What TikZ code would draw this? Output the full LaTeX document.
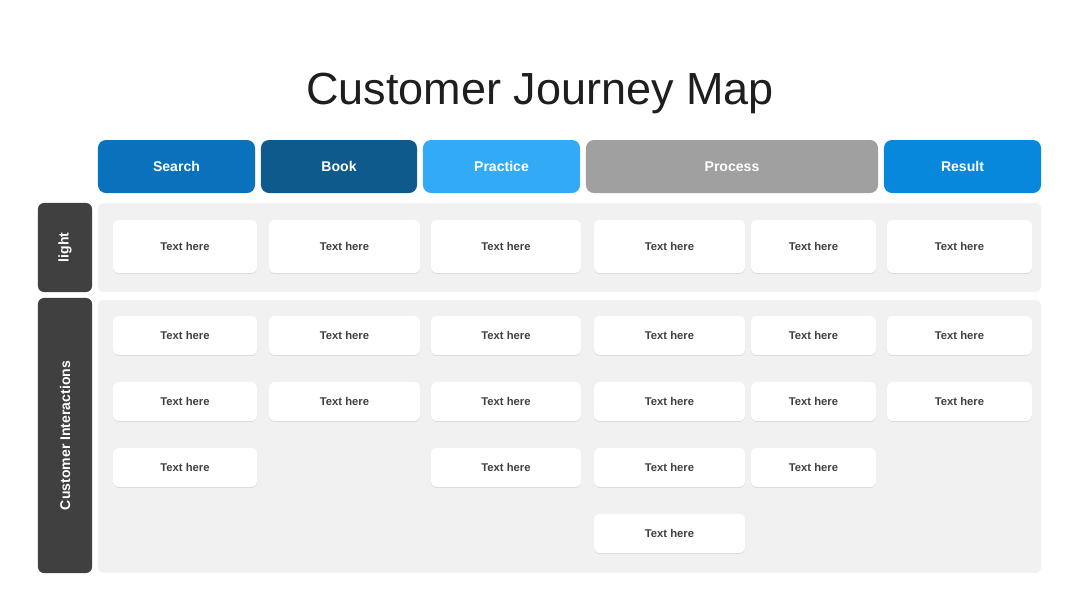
\documentclass[tikz,border=0pt]{standalone}
\usepackage{fontspec}
\setmainfont{Liberation Sans}
\usepackage{xcolor}
\usepackage{tikz}
\usetikzlibrary{positioning, shadows}
\definecolor{CJSearch}{RGB}{10,114,189}
\definecolor{CJBook}{RGB}{15,90,140}
\definecolor{CJPractice}{RGB}{51,170,245}
\definecolor{CJProcess}{RGB}{160,160,160}
\definecolor{CJResult}{RGB}{8,136,220}
\definecolor{CJDark}{RGB}{64,64,64}
\definecolor{CJPanel}{RGB}{241,241,241}
\definecolor{CJTitle}{RGB}{30,30,30}

\begin{document}
\begin{tikzpicture}[x=0.025cm, y=-0.025cm,
            head/.style={rectangle, rounded corners=0.2cm, inner sep=0pt,
                         minimum height=1.325cm, text=white,
                         font=\fontsize{10}{12}\selectfont\bfseries},
            lane/.style={rectangle, rounded corners=0.15cm, inner sep=0pt,
                         fill=CJDark, text=white, rotate=90,
                         minimum height=1.35cm,
                         font=\fontsize{10}{12}\selectfont\bfseries},
            panel/.style={rectangle, rounded corners=0.15cm, inner sep=0pt,
                          fill=CJPanel, minimum width=23.575cm},
            card/.style={rectangle, rounded corners=0.15cm, inner sep=0pt,
                         fill=white, text=CJDark, minimum height=0.975cm,
                         drop shadow={shadow xshift=0pt, shadow yshift=-0.6pt,
                                      opacity=0.10, fill=black},
                         font=\fontsize{8}{10}\selectfont\bfseries},
            big/.style={card, minimum height=1.325cm},
            wA/.style={minimum width=3.6cm},
            wB/.style={minimum width=3.775cm},
            wC/.style={minimum width=3.75cm},
            wD/.style={minimum width=3.775cm},
            wE/.style={minimum width=3.125cm},
            wF/.style={minimum width=3.625cm}
          ]
          \useasboundingbox[fill=white] (0,0) rectangle (1080,608);

          % title
          \node[anchor=base, text=CJTitle, font=\fontsize{32}{38}\selectfont]
                (title) at (540,104) {Customer Journey Map};

          % stage headers
          \node[head, fill=CJSearch,   minimum width=3.925cm] (search)   at (176.5,166.5) {Search};
          \node[head, fill=CJBook,     minimum width=3.9cm]   (book)     at (339,166.5)   {Book};
          \node[head, fill=CJPractice, minimum width=3.925cm] (practice) at (501.5,166.5) {Practice};
          \node[head, fill=CJProcess,  minimum width=7.3cm]   (process)  at (732,166.5)   {Process};
          \node[head, fill=CJResult,   minimum width=3.925cm] (result)   at (962.5,166.5) {Result};

          % lanes
          \node[lane, minimum width=2.225cm] (light) at (65,247.5) {light};
          \node[lane, minimum width=6.875cm] (inter) at (65,435.5) {Customer Interactions};
          \node[panel, minimum height=2.225cm] (p1) at (569.5,247.5) {};
          \node[panel, minimum height=6.825cm] (p2) at (569.5,436.5) {};

          % light row
          \node[big, wA] (l1) at (185,246.5)   {Text here};
          \node[big, wB] (l2) at (344.5,246.5) {Text here};
          \node[big, wC] (l3) at (506,246.5)   {Text here};
          \node[big, wD] (l4) at (669.5,246.5) {Text here};
          \node[big, wE] (l5) at (813.5,246.5) {Text here};
          \node[big, wF] (l6) at (959.5,246.5) {Text here};

          % interactions, row 1
          \node[card, wA] (a1) at (185,335.5)   {Text here};
          \node[card, wB] (a2) at (344.5,335.5) {Text here};
          \node[card, wC] (a3) at (506,335.5)   {Text here};
          \node[card, wD] (a4) at (669.5,335.5) {Text here};
          \node[card, wE] (a5) at (813.5,335.5) {Text here};
          \node[card, wF] (a6) at (959.5,335.5) {Text here};
          % row 2
          \node[card, wA] (b1) at (185,401.5)   {Text here};
          \node[card, wB] (b2) at (344.5,401.5) {Text here};
          \node[card, wC] (b3) at (506,401.5)   {Text here};
          \node[card, wD] (b4) at (669.5,401.5) {Text here};
          \node[card, wE] (b5) at (813.5,401.5) {Text here};
          \node[card, wF] (b6) at (959.5,401.5) {Text here};
          % row 3
          \node[card, wA] (c1) at (185,467.5)   {Text here};
          \node[card, wC] (c3) at (506,467.5)   {Text here};
          \node[card, wD] (c4) at (669.5,467.5) {Text here};
          \node[card, wE] (c5) at (813.5,467.5) {Text here};
          % row 4
          \node[card, wD] (d4) at (669.5,533.5) {Text here};
        \end{tikzpicture}
\end{document}
